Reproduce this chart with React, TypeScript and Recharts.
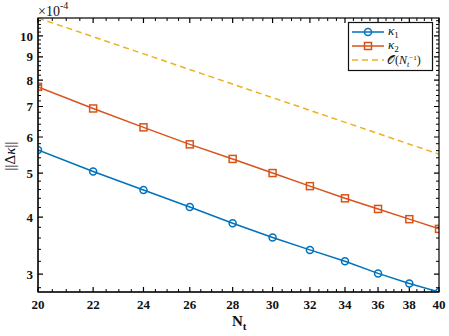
import { Line, LineChart, ReferenceLine, XAxis, YAxis } from 'recharts';

// values are in units of 1e-4 (see the "x10^-4" label on the y axis)
const N_T = [20, 22, 24, 26, 28, 30, 32, 34, 36, 38, 40];
const KAPPA_1 = [5.62, 5.04, 4.59, 4.21, 3.88, 3.61, 3.39, 3.2, 3.01, 2.86, 2.74];
const KAPPA_2 = [7.73, 6.93, 6.3, 5.78, 5.37, 5.0, 4.68, 4.4, 4.17, 3.96, 3.77];
const REF_N = [20, 40];
const REF = [10.95, 5.5];

const X_TICKS = [20, 22, 24, 26, 28, 30, 32, 34, 36, 38, 40];
const Y_TICKS = [3, 4, 5, 6, 7, 8, 9, 10];
const X_DOMAIN = [20, 40];
const Y_DOMAIN = [2.74, 10.95];

const X_MINOR = Array.from({ length: 41 }, (_, i) => 20 + i * 0.5).filter((v) => !X_TICKS.includes(v));
const Y_MINOR = Array.from({ length: 41 }, (_, i) => +(2.8 + i * 0.2).toFixed(1)).filter(
  (v) => !Number.isInteger(v),
);

const BLUE = '#0072BD';
const ORANGE = '#D95319';
const YELLOW = '#EDB120';
const AXIS = '#111';
const FONT = '"Liberation Serif", "Times New Roman", serif';

const W = 449;
const H = 336;
const MARGIN = { top: 18, right: 10, bottom: 14, left: 0 };
const Y_AXIS_W = 38;
const X_AXIS_H = 30;
const PLOT_W = W - MARGIN.left - MARGIN.right - Y_AXIS_W;
const PLOT_H = H - MARGIN.top - MARGIN.bottom - X_AXIS_H;

const rows = N_T.map((n, i) => {
  const r = REF_N.indexOf(n);
  return { n, k1: KAPPA_1[i], k2: KAPPA_2[i], ref: r >= 0 ? REF[r] : null };
});

const labelStyle = { fill: AXIS, fontFamily: FONT, fontWeight: 'bold', fontSize: 13 };

// a full-length reference line dashed so only its two ends show: inward ticks on both box edges
const tickDash = (len: number, span: number) => `${len} ${span - 2 * len} ${len}`;

function SquareDot(props: any) {
  const { cx, cy, index } = props;
  if (cx == null || cy == null) return <g key={`sq-${index}`} />;
  return (
    <rect key={`sq-${index}`} x={cx - 3.5} y={cy - 3.5} width={7} height={7} fill="none" stroke={ORANGE} strokeWidth={1.5} />
  );
}

function Overlay() {
  const ly = [32, 46, 60];
  const left = MARGIN.left + Y_AXIS_W;
  return (
    <svg width={W} height={H} style={{ position: 'absolute', left: 0, top: 0, pointerEvents: 'none', fontFamily: FONT }}>
      {/* axes box */}
      <rect x={left} y={MARGIN.top} width={PLOT_W} height={PLOT_H} fill="none" stroke="#000" strokeWidth={1.2} />
      {/* exponent */}
      <text x={38} y={16} fontSize={14} fill={AXIS}>
        ×10
        <tspan dy={-7} fontSize={10}>-4</tspan>
      </text>
      {/* y label */}
      <text transform="translate(15,156) rotate(-90)" textAnchor="middle" fontSize={15} fill={AXIS}>
        ||Δ<tspan fontStyle="italic">κ</tspan>||
      </text>
      {/* x label */}
      <text x={232} y={326} fontSize={15} fontWeight="bold" fill={AXIS}>
        N<tspan dy={4} fontSize={11}>t</tspan>
      </text>
      {/* legend */}
      <rect x={348.5} y={22.5} width={84} height={48} fill="#fff" stroke={AXIS} strokeWidth={1.2} />
      <line x1={352} y1={ly[0]} x2={384} y2={ly[0]} stroke={BLUE} strokeWidth={1.5} />
      <circle cx={368} cy={ly[0]} r={3.5} fill="none" stroke={BLUE} strokeWidth={1.5} />
      <line x1={352} y1={ly[1]} x2={384} y2={ly[1]} stroke={ORANGE} strokeWidth={1.5} />
      <rect x={364.5} y={ly[1] - 3.5} width={7} height={7} fill="none" stroke={ORANGE} strokeWidth={1.5} />
      <line x1={352} y1={ly[2]} x2={384} y2={ly[2]} stroke={YELLOW} strokeWidth={1.5} strokeDasharray="6 4" />
      <text x={388} y={ly[0] + 3} fontSize={13} fill={AXIS}>
        <tspan fontStyle="italic">κ</tspan>
        <tspan dy={3} fontSize={9}>1</tspan>
      </text>
      <text x={388} y={ly[1] + 3} fontSize={13} fill={AXIS}>
        <tspan fontStyle="italic">κ</tspan>
        <tspan dy={3} fontSize={9}>2</tspan>
      </text>
      <text x={387} y={ly[2] + 4} fontSize={12} fill={AXIS}>
        𝒪(<tspan fontStyle="italic">N</tspan>
        <tspan dy={3} fontSize={8} fontStyle="italic">t</tspan>
        <tspan dy={-7} fontSize={7}>−1</tspan>
        <tspan dy={4}>)</tspan>
      </text>
    </svg>
  );
}

export default function App() {
  return (
    <div style={{ position: 'relative', width: W, height: H, background: '#fff' }}>
      <style>{'body{margin:0}'}</style>
      <LineChart width={W} height={H} data={rows} margin={MARGIN}>
        <XAxis
          xAxisId="b"
          dataKey="n"
          type="number"
          scale="log"
          domain={X_DOMAIN}
          allowDataOverflow
          ticks={X_TICKS}
          interval={0}
          height={X_AXIS_H}
          tickLine={false}
          tickSize={0}
          tickMargin={8}
          stroke="#000"
          tick={labelStyle}
        />
        <YAxis
          yAxisId="l"
          type="number"
          scale="log"
          domain={Y_DOMAIN}
          allowDataOverflow
          ticks={Y_TICKS}
          interval={0}
          width={Y_AXIS_W}
          tickLine={false}
          tickSize={0}
          tickMargin={5}
          stroke="#000"
          tick={labelStyle}
        />
        {X_TICKS.map((v) => (
          <ReferenceLine key={`xt-${v}`} xAxisId="b" yAxisId="l" x={v} stroke="#000" strokeWidth={1.2} strokeDasharray={tickDash(5, PLOT_H)} />
        ))}
        {X_MINOR.map((v) => (
          <ReferenceLine key={`xm-${v}`} xAxisId="b" yAxisId="l" x={v} stroke="#000" strokeWidth={1} strokeDasharray={tickDash(3, PLOT_H)} />
        ))}
        {Y_TICKS.map((v) => (
          <ReferenceLine key={`yt-${v}`} xAxisId="b" yAxisId="l" y={v} stroke="#000" strokeWidth={1.2} strokeDasharray={tickDash(5, PLOT_W)} />
        ))}
        {Y_MINOR.map((v) => (
          <ReferenceLine key={`ym-${v}`} xAxisId="b" yAxisId="l" y={v} stroke="#000" strokeWidth={1} strokeDasharray={tickDash(3, PLOT_W)} />
        ))}
        <Line
          xAxisId="b"
          yAxisId="l"
          dataKey="ref"
          stroke={YELLOW}
          strokeWidth={1.5}
          strokeDasharray="6 4"
          dot={false}
          connectNulls
          isAnimationActive={false}
        />
        <Line
          xAxisId="b"
          yAxisId="l"
          dataKey="k2"
          stroke={ORANGE}
          strokeWidth={1.5}
          dot={SquareDot}
          isAnimationActive={false}
        />
        <Line
          xAxisId="b"
          yAxisId="l"
          dataKey="k1"
          stroke={BLUE}
          strokeWidth={1.5}
          dot={{ r: 3.5, fill: 'none', stroke: BLUE, strokeWidth: 1.5 }}
          isAnimationActive={false}
        />
      </LineChart>
      <Overlay />
    </div>
  );
}
